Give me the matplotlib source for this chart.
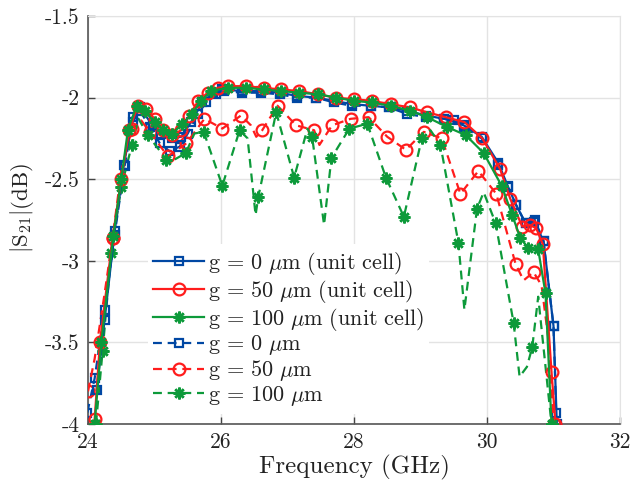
import matplotlib
matplotlib.use("Agg")
import matplotlib.pyplot as plt

plt.rcParams['font.family'] = 'serif'
plt.rcParams['font.serif'] = ['cmr10']
plt.rcParams['mathtext.fontset'] = 'cm'
plt.rcParams['axes.unicode_minus'] = False

# ---------------- data ----------------
x_ticks = [24, 26, 28, 30, 32]
x_ticklabels = ['24', '26', '28', '30', '32']
y_ticks = [-4, -3.5, -3, -2.5, -2, -1.5]
y_ticklabels = ['-4', '-3.5', '-3', '-2.5', '-2', '-1.5']

labels = [r'$\mathrm{g}\, =\, 0\ \mu\mathrm{m}\ \mathrm{(unit\ cell)}$',
          r'$\mathrm{g}\, =\, 50\ \mu\mathrm{m}\ \mathrm{(unit\ cell)}$',
          r'$\mathrm{g}\, =\, 100\ \mu\mathrm{m}\ \mathrm{(unit\ cell)}$',
          r'$\mathrm{g}\, =\, 0\ \mu\mathrm{m}$',
          r'$\mathrm{g}\, =\, 50\ \mu\mathrm{m}$',
          r'$\mathrm{g}\, =\, 100\ \mu\mathrm{m}$']

# g = 0 um (unit cell)
f_g0u = [24.13, 24.25, 24.40, 24.54, 24.67, 24.78, 24.97, 25.10, 25.26, 25.40,
         25.55, 25.72, 25.88, 26.02, 26.32, 26.60, 26.88, 27.15, 27.43, 27.70,
         27.97, 28.25, 28.52, 28.80, 29.08, 29.36, 29.65, 29.92, 30.17, 30.31,
         30.44, 30.58, 30.71, 30.85, 31.00, 31.05]
s_g0u = [-3.79, -3.36, -2.82, -2.41, -2.12, -2.06, -2.17, -2.22, -2.25, -2.24,
         -2.15, -2.03, -1.97, -1.95, -1.96, -1.96, -1.97, -1.99, -2.00, -2.02,
         -2.04, -2.05, -2.06, -2.08, -2.11, -2.13, -2.17, -2.24, -2.40, -2.54,
         -2.66, -2.77, -2.76, -2.88, -3.40, -4.00]

# g = 50 um (unit cell)
f_g50u = [24.10, 24.18, 24.37, 24.50, 24.62, 24.75, 24.87, 25.00, 25.13, 25.27,
          25.40, 25.52, 25.66, 25.80, 25.95, 26.10, 26.37, 26.64, 26.90, 27.18,
          27.46, 27.73, 28.00, 28.27, 28.55, 28.84, 29.10, 29.38, 29.66, 29.93,
          30.20, 30.35, 30.53, 30.64, 30.74, 30.84, 30.97, 31.03]
s_g50u = [-3.97, -3.50, -2.86, -2.50, -2.20, -2.05, -2.07, -2.13, -2.20, -2.23,
          -2.20, -2.11, -2.02, -1.97, -1.94, -1.93, -1.93, -1.94, -1.95, -1.96,
          -1.98, -2.00, -2.01, -2.02, -2.04, -2.06, -2.09, -2.12, -2.15, -2.25,
          -2.44, -2.62, -2.79, -2.78, -2.80, -2.90, -3.68, -4.00]

# g = 100 um (unit cell)
f_g100u = [24.10, 24.20, 24.38, 24.50, 24.60, 24.73, 24.85, 25.00, 25.13, 25.27,
           25.42, 25.56, 25.70, 25.85, 26.10, 26.37, 26.64, 26.90, 27.18, 27.46,
           27.73, 28.00, 28.27, 28.55, 28.84, 29.10, 29.40, 29.68, 29.95, 30.22,
           30.38, 30.50, 30.62, 30.77, 30.88, 30.97]
s_g100u = [-4.00, -3.50, -2.85, -2.50, -2.20, -2.05, -2.08, -2.15, -2.20, -2.22,
           -2.16, -2.10, -2.02, -1.96, -1.94, -1.94, -1.95, -1.96, -1.97, -1.98,
           -2.00, -2.02, -2.03, -2.05, -2.08, -2.12, -2.18, -2.23, -2.34, -2.54,
           -2.72, -2.86, -2.92, -2.93, -3.20, -4.00]

# g = 0 um
f_g0 = [23.99, 24.10, 24.25, 24.40, 24.55, 24.67, 24.78, 24.93, 25.08, 25.23,
        25.38, 25.50, 25.65, 25.78, 25.92, 26.05, 26.32, 26.60, 26.88, 27.15,
        27.43, 27.70, 27.97, 28.25, 28.52, 28.80, 29.08, 29.36, 29.50, 29.65,
        29.92, 30.17, 30.31, 30.44, 30.58, 30.72, 30.85, 31.00, 31.04]
s_g0 = [-3.93, -3.72, -3.30, -2.84, -2.42, -2.15, -2.08, -2.18, -2.28, -2.33,
        -2.30, -2.22, -2.10, -2.03, -1.98, -1.96, -1.97, -1.97, -1.98, -2.00,
        -2.00, -2.03, -2.05, -2.05, -2.06, -2.10, -2.12, -2.13, -2.14, -2.18,
        -2.25, -2.41, -2.55, -2.66, -2.77, -2.75, -2.88, -3.40, -3.93]

# g = 50 um
f_g50 = [24.00, 24.10, 24.25, 24.37, 24.50, 24.66, 24.80, 24.93, 25.20, 25.48,
         25.75, 26.02, 26.30, 26.45, 26.53, 26.62, 26.85, 27.13, 27.40, 27.48,
         27.67, 27.95, 28.22, 28.50, 28.78, 29.05, 29.32, 29.60, 29.87, 30.14,
         30.43, 30.55, 30.70, 30.82, 30.93, 31.00]
s_g50 = [-3.80, -3.60, -3.20, -2.86, -2.45, -2.19, -2.14, -2.21, -2.36, -2.28,
         -2.13, -2.19, -2.11, -2.17, -2.24, -2.20, -2.05, -2.17, -2.20, -2.29,
         -2.17, -2.13, -2.12, -2.24, -2.32, -2.21, -2.25, -2.59, -2.45, -2.59,
         -3.02, -3.12, -3.07, -3.15, -3.50, -4.00]
m_g50 = [1, 0, 0, 1, 0, 1, 0, 1, 1, 1,
         1, 1, 1, 0, 0, 1, 1, 1, 1, 0,
         1, 1, 1, 1, 1, 1, 1, 1, 1, 1,
         1, 0, 1, 0, 0, 1]

# g = 100 um
f_g100 = [24.12, 24.22, 24.35, 24.50, 24.66, 24.76, 24.90, 25.18, 25.30, 25.47,
          25.60, 25.74, 26.02, 26.28, 26.40, 26.52, 26.56, 26.83, 27.10, 27.30,
          27.37, 27.55, 27.66, 27.93, 28.20, 28.48, 28.75, 29.02, 29.15, 29.30,
          29.57, 29.66, 29.85, 29.95, 30.13, 30.40, 30.49, 30.60, 30.68, 30.77,
          30.97]
s_g100 = [-4.00, -3.55, -2.95, -2.55, -2.29, -2.13, -2.23, -2.38, -2.38, -2.34,
          -2.22, -2.21, -2.54, -2.20, -2.25, -2.72, -2.61, -2.09, -2.49, -2.19,
          -2.24, -2.78, -2.37, -2.19, -2.16, -2.49, -2.73, -2.25, -2.20, -2.29,
          -2.89, -3.30, -2.68, -2.58, -2.77, -3.38, -3.71, -3.65, -3.53, -3.22,
          -4.00]
m_g100 = [1, 1, 1, 1, 1, 0, 1, 1, 0, 1,
          0, 1, 1, 1, 0, 0, 1, 1, 1, 0,
          1, 0, 1, 1, 1, 1, 1, 1, 0, 1,
          1, 0, 1, 0, 1, 1, 0, 0, 1, 0,
          1]

# ---------------- style ----------------
BLUE = '#0047a3'
RED = '#ff1c1c'
GREEN = '#0d9a3a'
STAR = (8, 2, 0)
LW = 1.6
DASH = (4.0, 2.6)

fig = plt.figure(figsize=(6.33, 4.91), dpi=100)
ax = fig.add_axes([88 / 633, 1 - 424 / 491, 532 / 633, 408 / 491])

ax.plot(f_g0u, s_g0u, '-', color=BLUE, lw=LW, marker='s', ms=6, mfc='none', mew=1.6, label=labels[0], zorder=4)
ax.plot(f_g50u, s_g50u, '-', color=RED, lw=LW, marker='o', ms=8.5, mfc='none', mew=1.6, label=labels[1], zorder=4)
ax.plot(f_g100u, s_g100u, '-', color=GREEN, lw=LW, marker=STAR, ms=8.5, mew=1.8, label=labels[2], zorder=4)
ax.plot(f_g0, s_g0, '--', color=BLUE, lw=LW, dashes=DASH, marker='s', ms=6, mfc='none', mew=1.6, label=labels[3], zorder=3)
ax.plot(f_g50, s_g50, '--', color=RED, lw=LW, dashes=DASH, marker='o', ms=8.5, mfc='none', mew=1.6,
        markevery=[bool(v) for v in m_g50], label=labels[4], zorder=3)
ax.plot(f_g100, s_g100, '--', color=GREEN, lw=LW, dashes=DASH, marker=STAR, ms=8.5, mew=1.8,
        markevery=[bool(v) for v in m_g100], label=labels[5], zorder=3)

ax.set_xlim(24, 32)
ax.set_ylim(-4, -1.5)
ax.set_xticks(x_ticks)
ax.set_xticklabels(x_ticklabels)
ax.set_yticks(y_ticks)
ax.set_yticklabels(y_ticklabels)
ax.tick_params(direction='in', length=5, width=1, color='#444444', labelsize=15.5, labelcolor='#222222', pad=6)
ax.grid(True, color='#e3e3e3', lw=1)
ax.set_axisbelow(True)
for side in ['top', 'right']:
    ax.spines[side].set_color('#e3e3e3')
for side in ['left', 'bottom']:
    ax.spines[side].set_color('#555555')
    ax.spines[side].set_linewidth(1.2)

ax.set_xlabel('Frequency (GHz)', fontsize=18, color='#222222', labelpad=2)
ax.set_ylabel(r'$|\mathrm{S}_{21}|\mathrm{(dB)}$', fontsize=16.5, color='#222222')
ax.yaxis.set_label_coords(-0.098, 0.53)

leg = ax.legend(loc='lower left', bbox_to_anchor=(0.112, 0.025), fontsize=16, frameon=True,
                framealpha=1, edgecolor='none', facecolor='white', handlelength=2.3,
                handletextpad=0.15, labelspacing=0.04, borderpad=0.25, borderaxespad=0, numpoints=1)
leg.set_zorder(5)
for t in leg.get_texts():
    t.set_color('#222222')

fig.savefig('out.png', dpi=100)
